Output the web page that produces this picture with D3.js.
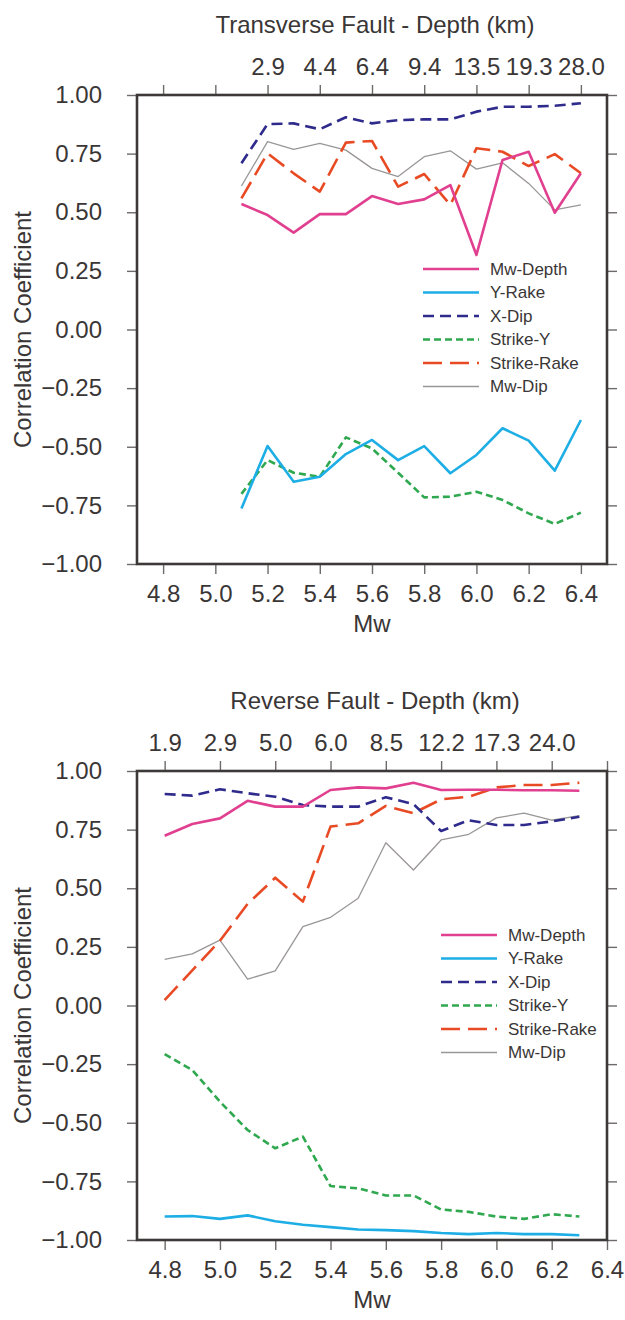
<!DOCTYPE html>
<html>
<head>
<meta charset="utf-8">
<script src="https://cdn.jsdelivr.net/npm/d3@7"></script>
<style>
  html, body { margin: 0; padding: 0; background: #fff; }
  svg { display: block; font-family: "Liberation Sans", Arial, Helvetica, sans-serif; }
</style>
</head>
<body>
<svg id="chart"></svg>
<script>
const width = 625;
const height = 1320;

// ---- data ----
const seriesNames = ["Mw-Depth", "Y-Rake", "X-Dip", "Strike-Y", "Strike-Rake", "Mw-Dip"];

// Transverse fault, Mw 5.1 .. 6.4
const transMw = [5.1, 5.2, 5.3, 5.4, 5.5, 5.6, 5.7, 5.8, 5.9, 6.0, 6.1, 6.2, 6.3, 6.4];
const transMwDepth   = [0.535, 0.488, 0.413, 0.492, 0.492, 0.569, 0.535, 0.555, 0.616, 0.318, 0.723, 0.758, 0.498, 0.666];
const transYRake     = [-0.763, -0.497, -0.649, -0.628, -0.531, -0.471, -0.557, -0.497, -0.613, -0.535, -0.421, -0.474, -0.602, -0.386];
const transXDip      = [0.709, 0.876, 0.879, 0.854, 0.905, 0.879, 0.893, 0.896, 0.896, 0.929, 0.95, 0.95, 0.954, 0.965];
const transStrikeY   = [-0.701, -0.557, -0.611, -0.628, -0.46, -0.507, -0.611, -0.716, -0.713, -0.692, -0.727, -0.784, -0.829, -0.781];
const transStrikeRake = [0.559, 0.751, 0.666, 0.588, 0.797, 0.804, 0.609, 0.663, 0.531, 0.773, 0.758, 0.697, 0.748, 0.666];
const transMwDip     = [0.612, 0.801, 0.768, 0.794, 0.765, 0.687, 0.652, 0.737, 0.762, 0.684, 0.711, 0.623, 0.51, 0.531];
const transTicks = [4.8, 5.0, 5.2, 5.4, 5.6, 5.8, 6.0, 6.2, 6.4];
const transDepthLabels = ["", "", "2.9", "4.4", "6.4", "9.4", "13.5", "19.3", "28.0"];

// Reverse fault, Mw 4.8 .. 6.3
const revMw = [4.8, 4.9, 5.0, 5.1, 5.2, 5.3, 5.4, 5.5, 5.6, 5.7, 5.8, 5.9, 6.0, 6.1, 6.2, 6.3];
const revMwDepth    = [0.724, 0.774, 0.798, 0.873, 0.848, 0.848, 0.919, 0.93, 0.926, 0.95, 0.919, 0.92, 0.92, 0.918, 0.918, 0.916];
const revYRake      = [-0.9, -0.898, -0.91, -0.895, -0.92, -0.935, -0.945, -0.955, -0.958, -0.962, -0.97, -0.975, -0.97, -0.975, -0.975, -0.98];
const revXDip       = [0.902, 0.895, 0.922, 0.905, 0.89, 0.855, 0.848, 0.848, 0.888, 0.859, 0.744, 0.79, 0.77, 0.77, 0.785, 0.805];
const revStrikeY    = [-0.207, -0.275, -0.41, -0.531, -0.609, -0.559, -0.77, -0.78, -0.81, -0.81, -0.87, -0.88, -0.9, -0.91, -0.89, -0.9];
const revStrikeRake = [0.023, 0.15, 0.276, 0.433, 0.545, 0.443, 0.763, 0.777, 0.851, 0.82, 0.879, 0.89, 0.93, 0.94, 0.94, 0.95];
const revMwDip      = [0.197, 0.22, 0.279, 0.112, 0.148, 0.336, 0.376, 0.457, 0.694, 0.578, 0.706, 0.73, 0.80, 0.82, 0.79, 0.81];
const revTicks = [4.8, 5.0, 5.2, 5.4, 5.6, 5.8, 6.0, 6.2, 6.4];
const revDepthLabels = ["1.9", "2.9", "5.0", "6.0", "8.5", "12.2", "17.3", "24.0", ""];

const yTicks = [1, 0.75, 0.5, 0.25, 0, -0.25, -0.5, -0.75, -1];

// ---- styles per series ----
const styles = {
  "Mw-Depth":    {color: "#e0408f", width: 2.6, dash: null},
  "Y-Rake":      {color: "#1eaee6", width: 2.6, dash: null},
  "X-Dip":       {color: "#2f2b8c", width: 2.6, dash: "11,6"},
  "Strike-Y":    {color: "#2fa84f", width: 2.6, dash: "7,4"},
  "Strike-Rake": {color: "#e84a24", width: 2.6, dash: "19,8"},
  "Mw-Dip":      {color: "#9a9696", width: 1.3, dash: null}
};

const textColor = "#3a3636";
const frameColor = "#3d3939";

const svg = d3.select("#chart")
  .attr("width", width)
  .attr("height", height);

function drawPanel(cfg) {
  const x = d3.scaleLinear().domain(cfg.xDomain).range([137, 607]);
  const y = d3.scaleLinear().domain([-1, 1]).range([cfg.top + 469, cfg.top]);
  const g = svg.append("g");
  const bottom = cfg.top + 469;

  // axes (ticks outward on all four sides)
  const fmt2 = d3.format(".2f");
  const fmt1 = d3.format(".1f");

  g.append("g")
    .attr("transform", `translate(137,0)`)
    .call(d3.axisLeft(y).tickValues(yTicks).tickSize(10).tickPadding(25).tickFormat(fmt2));

  g.append("g")
    .attr("transform", `translate(607,0)`)
    .call(d3.axisRight(y).tickValues(yTicks).tickSize(10).tickFormat(""));

  g.append("g")
    .attr("transform", `translate(0,${bottom})`)
    .call(d3.axisBottom(x).tickValues(cfg.ticks).tickSize(10).tickPadding(11).tickFormat(fmt1));

  g.append("g")
    .attr("transform", `translate(0,${cfg.top})`)
    .call(d3.axisTop(x).tickValues(cfg.ticks).tickSize(10).tickPadding(10)
      .tickFormat((d, i) => cfg.depthLabels[i]));

  g.selectAll(".domain").remove();
  g.selectAll(".tick line").attr("stroke", "#6e6a6a").attr("stroke-width", 1.4);
  g.selectAll(".tick text")
    .attr("fill", textColor)
    .attr("font-size", 24)
    .attr("font-family", "Liberation Sans, Arial, sans-serif");

  // frame
  g.append("rect")
    .attr("x", 137)
    .attr("y", cfg.top)
    .attr("width", 470)
    .attr("height", 469)
    .attr("fill", "none")
    .attr("stroke", frameColor)
    .attr("stroke-width", 2.6);

  // titles
  g.append("text")
    .attr("x", 375)
    .attr("y", cfg.top - 62)
    .attr("text-anchor", "middle")
    .attr("font-size", 24)
    .attr("fill", textColor)
    .text(cfg.title);

  g.append("text")
    .attr("x", 372)
    .attr("y", bottom + 68)
    .attr("text-anchor", "middle")
    .attr("font-size", 24)
    .attr("fill", textColor)
    .text("Mw");

  g.append("text")
    .attr("transform", `translate(31,${(cfg.top + bottom) / 2}) rotate(-90)`)
    .attr("text-anchor", "middle")
    .attr("font-size", 24)
    .attr("fill", textColor)
    .text("Correlation Coefficient");

  // lines
  const line = d3.line()
    .x(d => x(d[0]))
    .y(d => y(d[1]));

  seriesNames.slice().reverse().forEach(name => {
    const vals = cfg.series[name];
    const pts = cfg.mw.map((m, i) => [m, vals[i]]);
    const st = styles[name];
    g.append("path")
      .datum(pts)
      .attr("d", line)
      .attr("fill", "none")
      .attr("stroke", st.color)
      .attr("stroke-width", st.width)
      .attr("stroke-linejoin", "round")
      .attr("stroke-dasharray", st.dash);
  });

  // legend
  const leg = g.append("g")
    .attr("transform", `translate(${cfg.legendX},${cfg.legendY})`);
  const rows = leg.selectAll("g")
    .data(seriesNames)
    .enter()
    .append("g")
    .attr("transform", (d, i) => `translate(0,${i * 23.5})`);

  rows.append("line")
    .attr("x1", 0)
    .attr("x2", 56)
    .attr("stroke", d => styles[d].color)
    .attr("stroke-width", d => styles[d].width)
    .attr("stroke-dasharray", d => styles[d].dash);

  rows.append("text")
    .attr("x", 67)
    .attr("dy", "0.35em")
    .attr("font-size", 17)
    .attr("fill", textColor)
    .text(d => d);
}

drawPanel({
  top: 95,
  xDomain: [4.7, 6.5],
  ticks: transTicks,
  depthLabels: transDepthLabels,
  title: "Transverse Fault - Depth (km)",
  mw: transMw,
  series: {
    "Mw-Depth": transMwDepth,
    "Y-Rake": transYRake,
    "X-Dip": transXDip,
    "Strike-Y": transStrikeY,
    "Strike-Rake": transStrikeRake,
    "Mw-Dip": transMwDip
  },
  legendX: 423,
  legendY: 269
});

drawPanel({
  top: 771,
  xDomain: [4.7, 6.4],
  ticks: revTicks,
  depthLabels: revDepthLabels,
  title: "Reverse Fault - Depth (km)",
  mw: revMw,
  series: {
    "Mw-Depth": revMwDepth,
    "Y-Rake": revYRake,
    "X-Dip": revXDip,
    "Strike-Y": revStrikeY,
    "Strike-Rake": revStrikeRake,
    "Mw-Dip": revMwDip
  },
  legendX: 441,
  legendY: 935
});
</script>
</body>
</html>
